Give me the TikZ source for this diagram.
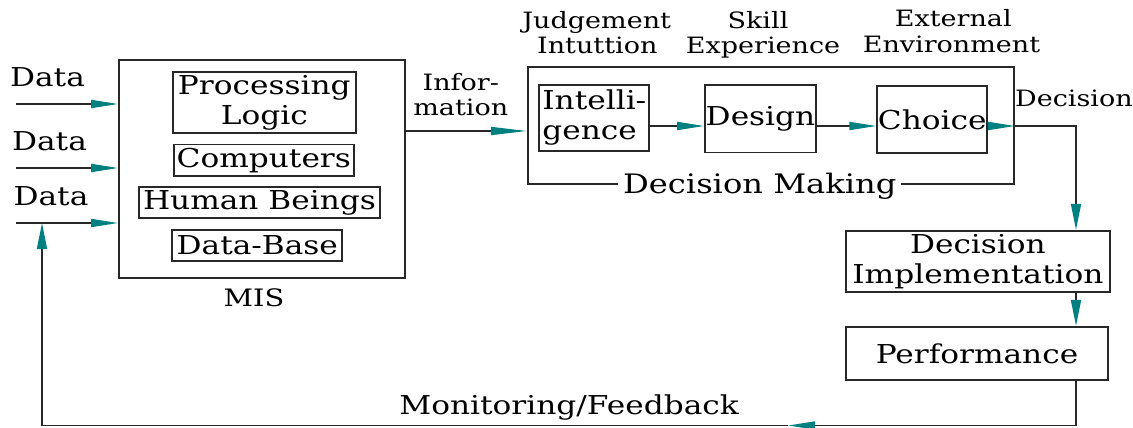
\documentclass[tikz,border=0pt]{standalone}
\usepackage{fontspec}
\setmainfont{DejaVu Serif}[FakeStretch=1.2]
\usetikzlibrary{arrows.meta}
\newcommand\fbig{\fontsize{26}{30}\selectfont}
\newcommand\fsmall{\fontsize{22.5}{26}\selectfont}
\definecolor{linec}{RGB}{40,40,40}
\definecolor{tipc}{RGB}{0,128,128}
\tikzset{
  box/.style={draw=linec, line width=1.7pt, inner sep=0pt, font=\fbig, align=center},
  lbl/.style={inner sep=0pt, font=\fsmall, anchor=base},
  blbl/.style={inner sep=0pt, font=\fbig, anchor=base},
  conn/.style={draw=linec, line width=1.7pt},
  arr/.style={conn, -{Triangle[length=27pt,width=8pt,color=tipc]}},
  varr/.style={conn, -{Triangle[length=26pt,width=10pt,color=tipc]}},
}
\begin{document}
\begin{tikzpicture}[x=1pt,y=-1pt]
\useasboundingbox (0,0) rectangle (1133,428);
% MIS
\node[box, minimum width=286pt, minimum height=218pt] (mis) at (262,169) {};
\node[box, minimum width=183.3pt, minimum height=61.6pt] (proc) at (264.3,102.5) {Processing\\Logic};
\node[box, minimum width=180.3pt, minimum height=31.7pt] (comp) at (263.8,160.2) {Computers};
\node[box, minimum width=241pt, minimum height=31pt] (human) at (259.5,202.8) {Human Beings};
\node[box, minimum width=170pt, minimum height=31pt] (dbase) at (257.3,245.5) {Data-Base};
\node[lbl, font=\fontsize{24}{28}\selectfont] (mislbl) at (254,306.7) {MIS};
% data inputs
\node[blbl] (data1) at (47.5,86.7) {Data};
\node[blbl] (data2) at (49.5,150) {Data};
\node[blbl] (data3) at (51,205) {Data};
\coordinate (d1) at (16,104);
\coordinate (d2) at (16,168);
\coordinate (d3) at (16,223);
\draw[arr] (d1) -- (mis.west |- d1);
\draw[arr] (d2) -- (mis.west |- d2);
\draw[arr] (d3) -- (mis.west |- d3);
% decision making
\node[box, minimum width=486.6pt, minimum height=117.6pt] (dm) at (771,125.5) {};
\node[box, minimum width=110pt, minimum height=66pt, align=left] (intel) at (594.3,118) {Intelli-\\gence};
\node[box, minimum width=111pt, minimum height=67.3pt] (design) at (760.5,118.7) {Design};
\node[box, minimum width=110pt, minimum height=67.6pt] (choice) at (932.3,119.5) {Choice};
\node[blbl, fill=white, inner xsep=5pt, font=\fontsize{26.8}{32}\selectfont] (dmlbl) at (759.8,193) {Decision Making};
% top labels
\node[lbl] (judg) at (596.7,28.3) {Judgement};
\node[lbl] (intu) at (597.3,53.3) {Intuttion};
\node[lbl] (skill) at (758,28.3) {Skill};
\node[lbl] (exper) at (763,53.3) {Experience};
\node[lbl] (exter) at (953.3,27) {External};
\node[lbl] (envir) at (951.5,52.7) {Environment};
% information
\node[lbl] (info1) at (460.8,90) {Infor-};
\node[lbl] (info2) at (460.8,115) {mation};
\coordinate (iy) at (0,131);
\draw[conn, -{Triangle[length=36pt,width=8pt,color=tipc]}] (mis.east |- iy) -- (dm.west |- iy);
% inner arrows
\coordinate (ay) at (0,126);
\draw[arr] (intel.east |- ay) -- (design.west |- ay);
\draw[arr] (design.east |- ay) -- (choice.west |- ay);
\draw[arr] (choice.east |- ay) -- (dm.east |- ay);
\node[lbl, anchor=base west] (declbl) at (1015,106.7) {Decision};
% implementation
\node[box, minimum width=264.3pt, minimum height=61pt] (impl) at (977.9,261.2) {Decision\\Implementation};
\node[box, minimum width=262.6pt, minimum height=53.3pt] (perf) at (977,353.4) {Performance};
\coordinate (vx) at (1076,0);
\draw[varr] (dm.east |- ay) -- (vx |- ay) -- (impl.north -| vx);
\draw[varr] (impl.south -| vx) -- (perf.north -| vx);
% feedback
\coordinate (fb) at (0,425.5);
\coordinate (fbtip) at (788,425.5);
\coordinate (fbl) at (42,425.5);
\draw[arr] (perf.south -| vx) -- (vx |- fb) -- (fbtip);
\draw[conn] (fbtip) -- (fbl);
\draw[varr] (fbl) -- (fbl |- d3);
\node[blbl] (mon) at (569,414) {Monitoring/Feedback};
\end{tikzpicture}
\end{document}
